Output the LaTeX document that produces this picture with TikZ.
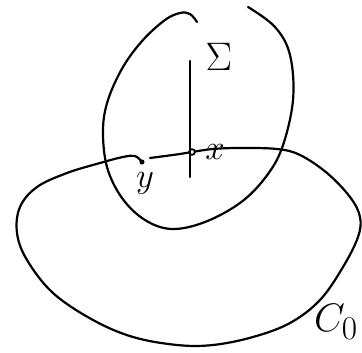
\documentclass[tikz,border=0pt]{standalone}
\usepackage{amsmath,amssymb}
\usepackage{graphicx}
\usepackage{tikz}
\usetikzlibrary{positioning}

\begin{document}
\begin{tikzpicture}[x=1pt,y=-1pt,every node/.style={font=\Huge},
    curve/.style={line width=2.2pt,line cap=round,line join=round},
    dot/.style={circle,fill,inner sep=1.7pt}]
  \useasboundingbox (0,0) rectangle (362,353);
  % the region Sigma (open at the top)
  \draw[curve] plot[smooth,tension=0.6] coordinates {(197,22) (190,14) (180,13) (165,20)
    (143,40) (123,67) (108,100) (103,130) (107,167) (122,198) (145,220) (172,229)
    (205,222) (240,203) (265,178) (282,148) (293,100) (290,55) (275,27) (248,7)};
  % the curve C_0 through x and y
  \coordinate (xp) at (192,152);
  \coordinate (yp) at (142,162);
  \draw[curve] plot[smooth,tension=0.6] coordinates {(150,158) (180,154) (192,152)
    (213,149) (240,148) (277,149) (300,155) (327,173) (350,197) (360,217) (358,237)
    (343,267) (320,300) (290,323) (253,337) (213,345) (177,345) (133,337) (93,320)
    (53,293) (27,260) (17,233) (20,207) (37,187) (67,173) (100,163) (123,157)
    (135,156) (142,162)};
  \node[dot,fill=white,draw,line width=1.8pt,inner sep=2pt] (x) at (xp) {};
  \node[dot,inner sep=1.8pt] (y) at (yp) {};
  % normal line
  \coordinate (ntop) at (190,61);
  \coordinate (nbot) at (190,177);
  \draw[curve] (ntop) -- (nbot);
  \node (sig) at (219,57) {\scalebox{1.6}{$\Sigma$}};
  \node (xl) at (215,152) {\scalebox{1.4}{$x$}};
  \node (yl) at (145,183) {\scalebox{1.4}{$y$}};
  \node (c0) at (336,322) {\scalebox{1.6}{$C_0$}};
\end{tikzpicture}
\end{document}
